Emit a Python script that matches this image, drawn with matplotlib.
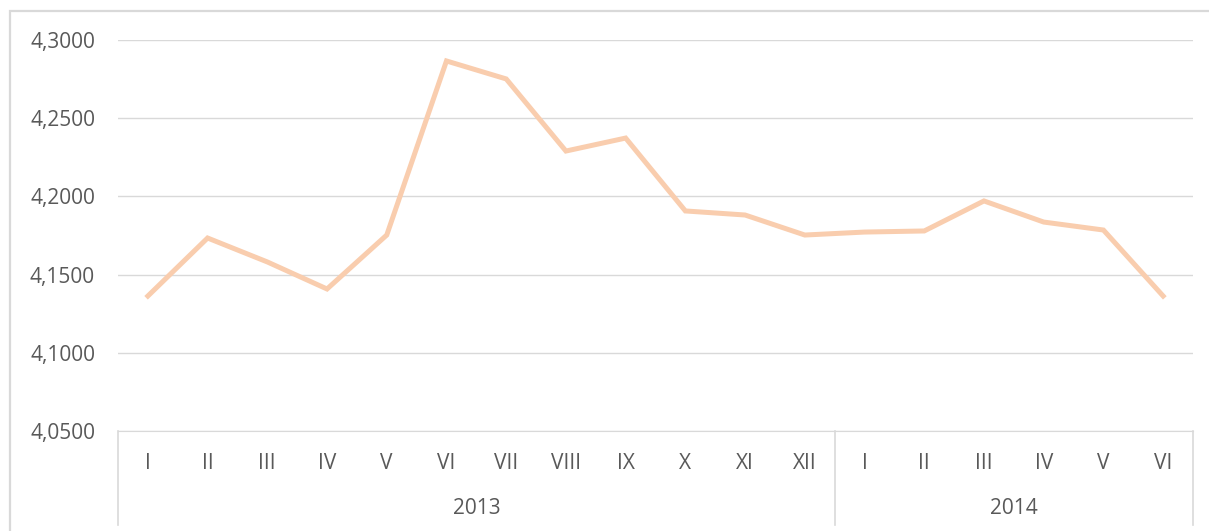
import matplotlib

matplotlib.use("Agg")
import matplotlib.pyplot as plt
from matplotlib.patches import Rectangle
from matplotlib.ticker import FuncFormatter, MultipleLocator

months = ["I", "II", "III", "IV", "V", "VI", "VII", "VIII", "IX", "X", "XI", "XII",
          "I", "II", "III", "IV", "V", "VI"]
years = ["2013", "2014"]
year_len = [12, 6]
values = [4.1363, 4.1734, 4.1581, 4.1408, 4.1753, 4.2866, 4.2751, 4.2290, 4.2373,
          4.1907, 4.1881, 4.1753, 4.1772, 4.1779, 4.1971, 4.1836, 4.1785, 4.1363]

TXT = "#595959"
GRID = "#D9D9D9"
FS = 15
plt.rcParams["font.family"] = ["Open Sans", "DejaVu Sans"]

W, H = 1209, 531
fig = plt.figure(figsize=(W / 100, H / 100), dpi=100)
# outer chart border, running off the right/bottom edge like the crop
fig.patches.append(Rectangle((10 / W, -0.1), 1.2, 1 - 11 / H + 0.1, transform=fig.transFigure,
                             fill=False, edgecolor=GRID, linewidth=1.6))

ax = fig.add_axes([118 / W, 1 - 431 / H, (1193 - 118) / W, (431 - 40) / H])
x = list(range(len(values)))
ax.plot(x, values, color="#F9CDAE", linewidth=3.6, solid_joinstyle="miter", zorder=3)

ax.set_xlim(-0.5, len(values) - 0.5)
ax.set_ylim(4.05, 4.30)
ax.yaxis.set_major_locator(MultipleLocator(0.05))
ax.yaxis.set_major_formatter(FuncFormatter(lambda v, _: f"{v:.4f}".replace(".", ",")))
ax.grid(axis="y", color=GRID, linewidth=1)
ax.set_axisbelow(True)
for s in ["top", "right", "left"]:
    ax.spines[s].set_visible(False)
ax.spines["bottom"].set_color(GRID)
ax.tick_params(axis="y", length=0, pad=16.5, labelsize=FS, labelcolor=TXT)
ax.tick_params(axis="x", length=0, labelbottom=False)

# multi-level category axis
tr = ax.get_xaxis_transform()
for i, m in enumerate(months):
    ax.text(i, -0.082, m, transform=tr, ha="center", va="center", fontsize=FS, color=TXT)
start = 0
bounds = [-0.5]
for yr, n in zip(years, year_len):
    ax.text(start + (n - 1) / 2, -0.197, yr, transform=tr, ha="center", va="center",
            fontsize=FS, color=TXT)
    start += n
    bounds.append(start - 0.5)
for b in bounds:
    ax.plot([b, b], [0, -0.24], transform=tr, color=GRID, linewidth=1.2, clip_on=False)

fig.savefig("out.png", dpi=100)
